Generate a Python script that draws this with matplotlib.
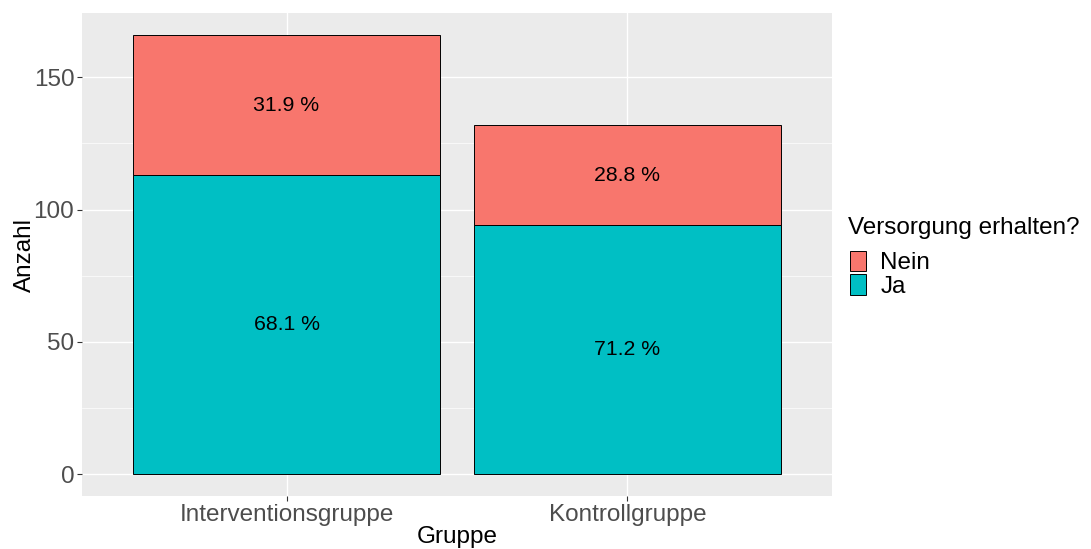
import matplotlib
matplotlib.use("Agg")
import matplotlib.pyplot as plt
from matplotlib.patches import Patch
import numpy as np

# -----------------------------
# DATA
# -----------------------------
groups = ["Interventionsgruppe", "Kontrollgruppe"]
ja = [113, 94]
nein = [53, 38]
y_ticks = [0, 50, 100, 150]

COL_NEIN = "#F8766D"
COL_JA = "#00BFC4"
PANEL_BG = "#EBEBEB"
TICK_GREY = "#4D4D4D"

plt.rcParams["font.family"] = ["Liberation Sans", "DejaVu Sans"]

W, H = 1091, 549
fig = plt.figure(figsize=(W / 100, H / 100), dpi=100)
ax = fig.add_axes([82 / W, 53 / H, 750 / W, 483 / H])

x = np.arange(1, len(groups) + 1)
totals = np.array(ja) + np.array(nein)

# stacked bars: Ja at the bottom, Nein on top
ax.bar(x, ja, width=0.9, color=COL_JA, edgecolor="black", linewidth=0.7, zorder=3)
ax.bar(x, nein, width=0.9, bottom=ja, color=COL_NEIN, edgecolor="black",
       linewidth=0.7, zorder=3)

# percentage labels centred in each segment
for xi, j, n, t in zip(x, ja, nein, totals):
    ax.text(xi, j / 2, f"{100 * j / t:.1f} %", ha="center", va="center",
            fontsize=15.3, color="black", zorder=4)
    ax.text(xi, j + n / 2, f"{100 * n / t:.1f} %", ha="center", va="center",
            fontsize=15.3, color="black", zorder=4)

# ggplot-like panel
ax.set_facecolor(PANEL_BG)
for s in ax.spines.values():
    s.set_visible(False)
ax.set_xlim(0.4, 2.6)
ymax = totals.max()
ax.set_ylim(-0.05 * ymax, 1.05 * ymax)

ax.set_yticks(y_ticks)
ax.set_yticks([25, 75, 125], minor=True)
ax.set_xticks(x)
ax.set_xticklabels(groups)
ax.grid(which="major", color="white", linewidth=1.0, zorder=0)
ax.grid(which="minor", axis="y", color="white", linewidth=0.5, zorder=0)
ax.set_axisbelow(True)

ax.tick_params(axis="both", which="major", labelsize=17.5, labelcolor=TICK_GREY,
               color="#333333", length=3.5, width=0.8, pad=2)
ax.tick_params(axis="y", which="minor", length=0)

ax.set_ylabel("Anzahl", fontsize=17.5, color="black")
ax.set_xlabel("Gruppe", fontsize=17.5, color="black")
ax.yaxis.set_label_coords(-0.062, 0.5)
ax.xaxis.set_label_coords(0.5, -0.062)

# legend: title as its own text, entries below
fig.text(848 / W, 1 - 228 / H, "Versorgung erhalten?", fontsize=17.5,
         ha="left", va="center", color="black")
handles = [Patch(facecolor=COL_NEIN, edgecolor="black", linewidth=0.7, label="Nein"),
           Patch(facecolor=COL_JA, edgecolor="black", linewidth=0.7, label="Ja")]
fig.legend(handles=handles, loc="upper left",
           bbox_to_anchor=(845 / W, 1 - 246 / H), frameon=False,
           fontsize=17.5, handlelength=0.66, handleheight=0.92,
           handletextpad=0.6, labelspacing=0.0, borderpad=0.2,
           borderaxespad=0)

fig.savefig("out.png", dpi=100)
